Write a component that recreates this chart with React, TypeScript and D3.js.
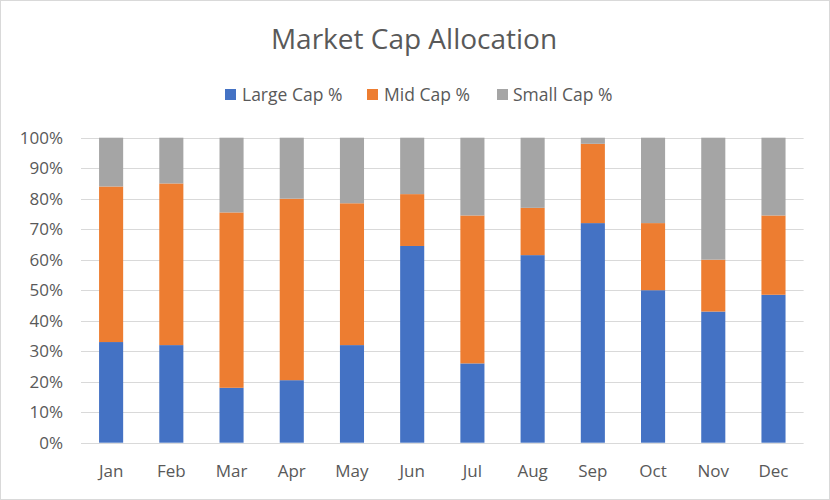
import React from "react";
import * as d3 from "d3";

const months = ["Jan", "Feb", "Mar", "Apr", "May", "Jun", "Jul", "Aug", "Sep", "Oct", "Nov", "Dec"];
const largeCap = [33, 32, 18, 20.5, 32, 64.5, 26, 61.5, 72, 50, 43, 48.5];
const midCap = [51, 53, 57.5, 59.5, 46.5, 17, 48.5, 15.5, 26, 22, 17, 26];
const smallCap = [16, 15, 24.5, 20, 21.5, 18.5, 25.5, 23, 2, 28, 40, 25.5];
const seriesNames = ["Large Cap %", "Mid Cap %", "Small Cap %"];
const colors = ["#4472C4", "#ED7D31", "#A5A5A5"];
const yTicks = [0, 10, 20, 30, 40, 50, 60, 70, 80, 90, 100];

const W = 830;
const H = 500;
const FONT = "'Open Sans', 'Segoe UI', sans-serif";

export default function App() {
  const rows = months.map((m, i) => ({ month: m, large: largeCap[i], mid: midCap[i], small: smallCap[i] }));
  const stack = d3.stack<any>().keys(["large", "mid", "small"]).offset(d3.stackOffsetExpand);
  const stacked = stack(rows);

  const x = d3.scaleBand().domain(months).range([81, 803.6]).paddingInner(0.6).paddingOuter(0.3);
  const y = d3.scaleLinear().domain([0, 1]).range([442.7, 137.7]);

  const legendItems = [
    { x: 225, tx: 242 },
    { x: 367, tx: 384 },
    { x: 497, tx: 513 },
  ];

  return (
    <div>
      <style>{`body{margin:0}`}</style>
      <svg width={W} height={H} style={{ display: "block", fontFamily: FONT }}>
        <rect x={0.5} y={0.5} width={W - 1} height={H - 1} fill="#fff" stroke="#d9d9d9" />
        <text x={414} y={49} textAnchor="middle" fontSize={28} fill="#595959">
          Market Cap Allocation
        </text>
        {seriesNames.map((s, i) => (
          <g key={s}>
            <rect x={legendItems[i].x} y={89} width={11} height={11} fill={colors[i]} />
            <text x={legendItems[i].tx} y={101} fontSize={17.5} fill="#595959">
              {s}
            </text>
          </g>
        ))}
        {yTicks.map((t) => (
          <g key={t}>
            <line x1={81} x2={803.6} y1={Math.round(y(t / 100)) + 0.5} y2={Math.round(y(t / 100)) + 0.5} stroke="#d9d9d9" strokeWidth={1} />
            <text x={63} y={y(t / 100) + 6} textAnchor="end" fontSize={17} fill="#595959">
              {t}%
            </text>
          </g>
        ))}
        {stacked.map((layer, li) => (
          <g key={li} fill={colors[li]}>
            {layer.map((d, i) => (
              <rect
                key={i}
                x={x(months[i])!}
                y={y(d[1])}
                width={x.bandwidth()}
                height={y(d[0]) - y(d[1])}
              />
            ))}
          </g>
        ))}
        {months.map((m) => (
          <text key={m} x={x(m)! + x.bandwidth() / 2} y={477} textAnchor="middle" fontSize={17} fill="#595959">
            {m}
          </text>
        ))}
      </svg>
    </div>
  );
}
